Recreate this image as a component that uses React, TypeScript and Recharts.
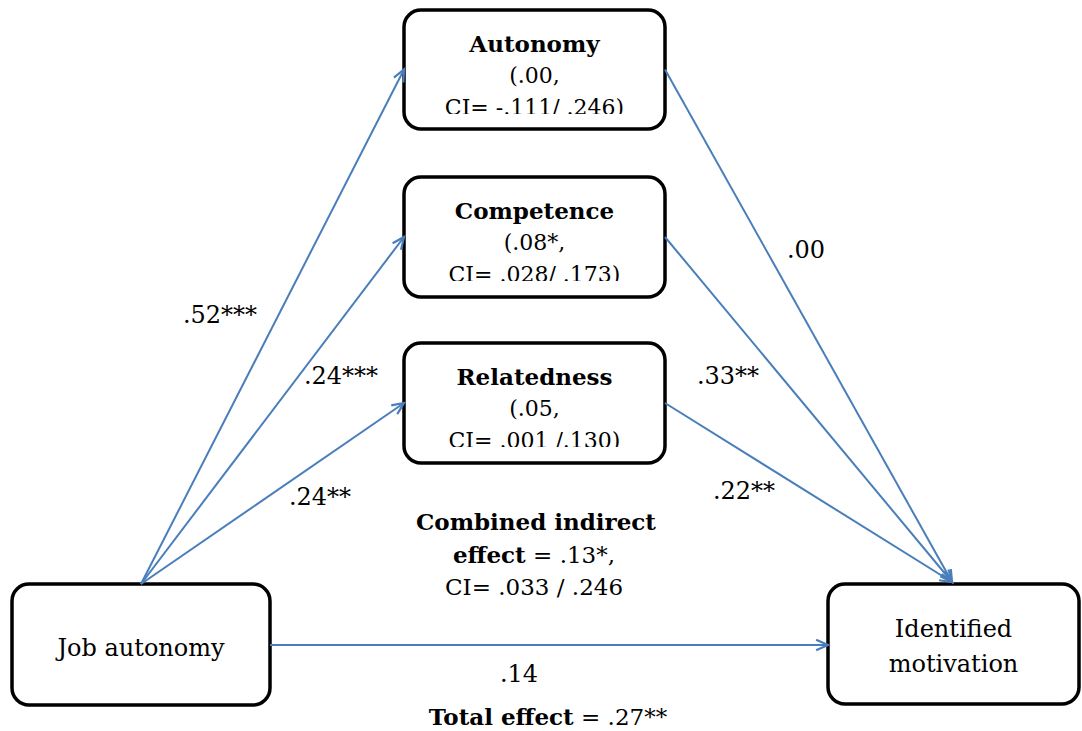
import React from 'react';
import { ScatterChart, Scatter, XAxis, YAxis, ReferenceArea, ReferenceLine } from 'recharts';

// ---- Content (values / labels) ----
const predictorLabel = ['Job autonomy'];
const outcomeLabel = ['Identified', 'motivation'];
const mediatorNames = ['Autonomy', 'Competence', 'Relatedness'];
const mediatorEffects = ['(.00,', '(.08*,', '(.05,'];
const mediatorCIs = ['CI= -.111/ .246)', 'CI= .028/ .173)', 'CI= .001 /.130)'];
const pathAValues = ['.52***', '.24***', '.24**'];
const pathBValues = ['.00', '.33**', '.22**'];
const directEffect = '.14';
const totalEffectLabel = 'Total effect';
const totalEffect = ' = .27**';
const indirectTitle = 'Combined indirect';
const indirectLabel = 'effect';
const indirectEffect = ' = .13*,';
const indirectCI = 'CI= .033 / .246';

// ---- Layout in diagram units ----
const mediatorX = [404, 665];
const mediatorY = [
  [10, 129],
  [177, 297],
  [343, 463],
];
const predictorBox = { x1: 12, x2: 270, y1: 584, y2: 705 };
const outcomeBox = { x1: 828, x2: 1079, y1: 584, y2: 704 };
const predictorTop = { x: 141, y: 584 };
const outcomeTop = { x: 952, y: 582 };
const directY = 645;
const pathALabelPos = [
  { x: 220, y: 323 },
  { x: 341, y: 384 },
  { x: 320, y: 505 },
];
const pathBLabelPos = [
  { x: 806, y: 258 },
  { x: 728, y: 384 },
  { x: 744, y: 499 },
];
const directLabelPos = { x: 519, y: 682 };
const totalLabelPos = { x: 548, y: 725 };
const indirectPos = [
  { x: 536, y: 530 },
  { x: 534, y: 563 },
  { x: 534, y: 595 },
];

const FONT = '"DejaVu Serif", serif';
const BLUE = '#4A7EBB';

const pathLabels = [
  ...pathAValues.map((t, i) => ({ x: pathALabelPos[i].x, y: pathALabelPos[i].y, bold: '', text: t })),
  ...pathBValues.map((t, i) => ({ x: pathBLabelPos[i].x, y: pathBLabelPos[i].y, bold: '', text: t })),
  { x: directLabelPos.x, y: directLabelPos.y, bold: '', text: directEffect },
];
const noteLabels = [
  { x: totalLabelPos.x, y: totalLabelPos.y, bold: totalEffectLabel, text: totalEffect },
  { x: indirectPos[0].x, y: indirectPos[0].y, bold: indirectTitle, text: '' },
  { x: indirectPos[1].x, y: indirectPos[1].y, bold: indirectLabel, text: indirectEffect },
  { x: indirectPos[2].x, y: indirectPos[2].y, bold: '', text: indirectCI },
];

const arrows = [
  ...mediatorY.map(([a, b]) => ({ from: predictorTop, to: { x: mediatorX[0], y: (a + b) / 2 } })),
  ...mediatorY.map(([a, b]) => ({ from: { x: mediatorX[1], y: (a + b) / 2 }, to: outcomeTop })),
  { from: { x: predictorBox.x2, y: directY }, to: { x: outcomeBox.x1, y: directY } },
];

const ArrowShape = (p: any) => {
  const { x1, y1, x2, y2 } = p;
  const ang = Math.atan2(y2 - y1, x2 - x1);
  const len = 13;
  const spread = 0.42;
  const ax = x2 - len * Math.cos(ang - spread);
  const ay = y2 - len * Math.sin(ang - spread);
  const bx = x2 - len * Math.cos(ang + spread);
  const by = y2 - len * Math.sin(ang + spread);
  return (
    <g>
      <line x1={x1} y1={y1} x2={x2} y2={y2} stroke={BLUE} strokeWidth={2} />
      <polyline points={`${ax},${ay} ${x2},${y2} ${bx},${by}`} fill="none" stroke={BLUE} strokeWidth={2.2} strokeLinejoin="miter" />
    </g>
  );
};

const boxShape = (
  lines: { t: string; bold?: boolean; dy: number; size: number }[],
  clipId?: string,
  clipH?: number
) => (p: any) => {
  const { x, y, width, height } = p;
  const cx = x + width / 2;
  return (
    <g>
      {clipId && (
        <defs>
          <clipPath id={clipId}>
            <rect x={x} y={y} width={width} height={clipH} />
          </clipPath>
        </defs>
      )}
      <rect x={x} y={y} width={width} height={height} rx={17} ry={17} fill="#fff" stroke="#000" strokeWidth={3.5} />
      <g clipPath={clipId ? `url(#${clipId})` : undefined}>
        {lines.map((l, i) => (
          <text key={i} x={cx} y={y + l.dy} textAnchor="middle" fontFamily={FONT} fontSize={l.size} fontWeight={l.bold ? 'bold' : 'normal'} fill="#000">
            {l.t}
          </text>
        ))}
      </g>
    </g>
  );
};

const TextShape = (size: number) => (p: any) => {
  const d = p.payload;
  return (
    <text x={p.cx} y={p.cy} textAnchor="middle" fontFamily={FONT} fontSize={size} fill="#000">
      {d.bold ? <tspan fontWeight="bold">{d.bold}</tspan> : null}
      {d.text ? <tspan>{d.text}</tspan> : null}
    </text>
  );
};

export default function App() {
  return (
    <div style={{ position: 'absolute', left: 0, top: 0, background: '#fff' }}>
      <ScatterChart width={1082} height={731} margin={{ top: 0, right: 0, bottom: 0, left: 0 }}>
        <XAxis type="number" dataKey="x" domain={[0, 1082]} hide allowDataOverflow />
        <YAxis type="number" dataKey="y" domain={[0, 731]} reversed hide allowDataOverflow />
        {arrows.map((a, i) => (
          <ReferenceLine
            key={`ar${i}`}
            segment={[a.from, a.to]}
            ifOverflow="visible"
            shape={ArrowShape}
          />
        ))}
        {mediatorNames.map((name, i) => (
          <ReferenceArea
            key={`m${i}`}
            x1={mediatorX[0]}
            x2={mediatorX[1]}
            y1={mediatorY[i][0]}
            y2={mediatorY[i][1]}
            ifOverflow="visible"
            shape={boxShape(
              [
                { t: name, bold: true, dy: 42, size: 23 },
                { t: mediatorEffects[i], dy: 73, size: 22 },
                { t: mediatorCIs[i], dy: 105, size: 22 },
              ],
              `clip${i}`,
              104
            )}
          />
        ))}
        <ReferenceArea
          x1={predictorBox.x1}
          x2={predictorBox.x2}
          y1={predictorBox.y1}
          y2={predictorBox.y2}
          ifOverflow="visible"
          shape={boxShape([{ t: predictorLabel[0], dy: 72, size: 24 }])}
        />
        <ReferenceArea
          x1={outcomeBox.x1}
          x2={outcomeBox.x2}
          y1={outcomeBox.y1}
          y2={outcomeBox.y2}
          ifOverflow="visible"
          shape={boxShape([
            { t: outcomeLabel[0], dy: 53, size: 24 },
            { t: outcomeLabel[1], dy: 88, size: 24 },
          ])}
        />
        <Scatter data={pathLabels} isAnimationActive={false} shape={TextShape(24)} />
        <Scatter data={noteLabels} isAnimationActive={false} shape={TextShape(23)} />
      </ScatterChart>
    </div>
  );
}
